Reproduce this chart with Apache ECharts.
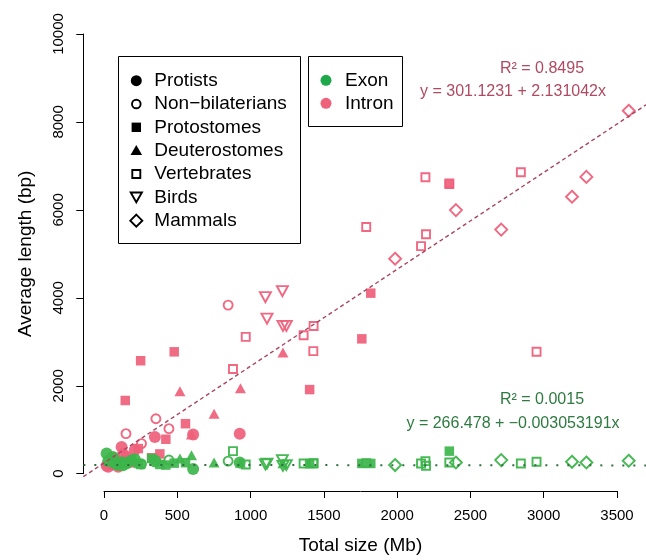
<!DOCTYPE html>
<html>
<head>
<meta charset="utf-8">
<script src="https://cdn.jsdelivr.net/npm/echarts@6/dist/echarts.min.js"></script>
<style>
  html, body { margin: 0; padding: 0; background: #fff; }
  #chart { width: 646px; height: 560px; }
</style>
</head>
<body>
<div id="chart"></div>
<script>
// genome size (Mb) and average exon / intron length (bp), per group
const protistsSize    = [18, 29, 60, 75, 97, 120, 130, 154, 188, 210, 347, 608, 926];
const protistsIntron  = [180, 160, 210, 346, 158, 610, 450, 384, 271, 540, 836, 889, 911];
const protistsExon    = [459, 287, 380, 230, 200, 260, 190, 240, 300, 330, 280, 106, 255];

const nonbilatSize    = [150, 256, 354, 443, 847];
const nonbilatIntron  = [911, 685, 1250, 1024, 3834];
const nonbilatExon    = [250, 220, 300, 310, 287];

const protoSize       = [145, 234, 250, 325, 381, 422, 479, 556, 1403, 1759, 1820, 2356];
const protoIntron     = [1665, 572, 2569, 362, 450, 784, 2772, 1137, 1913, 3067, 4106, 6583];
const protoExon       = [230, 233, 210, 346, 210, 197, 240, 250, 230, 233, 233, 513];

const deuteroSize     = [518, 597, 751, 931, 1221];
const deuteroIntron   = [1876, 889, 1363, 1943, 2757];
const deuteroExon     = [346, 422, 255, 250, 240];

const vertSize        = [880, 967, 1362, 1428, 1430, 1789, 2163, 2193, 2197, 2356, 2844, 2951];
const vertIntron      = [2380, 3111, 3149, 2787, 3360, 5612, 5175, 6742, 5446, 6600, 6855, 2772];
const vertExon        = [513, 210, 233, 233, 240, 240, 233, 287, 181, 255, 233, 271];

const birdSize        = [1101, 1112, 1217, 1221, 1244];
const birdIntron      = [4016, 3525, 4151, 3360, 3360];
const birdExon        = [210, 230, 310, 180, 197];

const mammalSize      = [1986, 2401, 2710, 3193, 3291, 3580];
const mammalIntron    = [4888, 5996, 5552, 6298, 6750, 8255];
const mammalExon      = [197, 255, 310, 271, 255, 294];

// linear fits as printed on the chart: [intercept, slope]
const intronFit = [301.1231, 2.131042];
const exonFit   = [266.478, -0.003053191];
const fitRange  = [-141, 3800];

const groupNames = ['Protists', 'Non\u2212bilaterians', 'Protostomes', 'Deuterostomes', 'Vertebrates', 'Birds', 'Mammals'];

const FONT = '"Liberation Sans", Arial, Helvetica, sans-serif';
const GREEN = '#3db54b';
const PINK = '#ef607b';

// pixel scale of the plot: 0..3500 Mb over 513 px
const PX_PER_MB = 513 / 3500;

const groups = [
  { size: protistsSize, exon: protistsExon, intron: protistsIntron, symbol: 'circle', sym: 12, open: false },
  { size: nonbilatSize, exon: nonbilatExon, intron: nonbilatIntron, symbol: 'circle', sym: 9, open: true },
  { size: protoSize, exon: protoExon, intron: protoIntron, symbol: 'rect', sym: 9.5, open: false },
  { size: deuteroSize, exon: deuteroExon, intron: deuteroIntron, symbol: 'triangle', sym: [11, 10], open: false },
  { size: vertSize, exon: vertExon, intron: vertIntron, symbol: 'rect', sym: 8, open: true },
  { size: birdSize, exon: birdExon, intron: birdIntron, symbol: 'triangle', sym: [11, 10], open: true, rotate: 180 },
  { size: mammalSize, exon: mammalExon, intron: mammalIntron, symbol: 'diamond', sym: [12, 12], open: true }
];

function scatterSeries(g, values, color, name) {
  return {
    name: name, type: 'scatter', clip: false,
    symbol: g.symbol, symbolSize: g.sym, symbolRotate: g.rotate || 0,
    data: g.size.map((x, i) => [x, values[i]]),
    itemStyle: g.open
      ? { color: 'rgba(0,0,0,0)', borderColor: color, borderWidth: 1.9, opacity: 0.95 }
      : { color: color, opacity: 0.92 },
    emphasis: { disabled: true }
  };
}

const series = [];

// fit lines live on a second, wider grid (hidden axes) spanning the whole plot region
function fitLine(fit, color, dash, width) {
  return {
    type: 'line', symbol: 'none', silent: true, xAxisIndex: 1, yAxisIndex: 1,
    data: fitRange.map(x => [x, fit[0] + fit[1] * x]),
    lineStyle: { color: color, type: dash, width: width }
  };
}
series.push(fitLine(intronFit, '#a9465f', [4, 3], 1.4));
series.push(fitLine(exonFit, '#2c6e3c', [2, 9], 2));

groups.forEach((g, i) => series.push(scatterSeries(g, g.intron, PINK, groupNames[i] + ' intron')));
groups.forEach((g, i) => series.push(scatterSeries(g, g.exon, GREEN, groupNames[i] + ' exon')));

// legend glyphs (drawn as graphics so the layout follows the original)
const legendRows = [80.7, 104, 127.3, 150.6, 174, 197.3, 220.7];
const lx = 136.3;
const blk = '#000';
const legendGlyphs = [
  { type: 'circle', shape: { cx: lx, cy: legendRows[0], r: 5.5 }, style: { fill: blk } },
  { type: 'circle', shape: { cx: lx, cy: legendRows[1], r: 4.3 }, style: { fill: 'none', stroke: blk, lineWidth: 1.9 } },
  { type: 'rect', shape: { x: lx - 4.7, y: legendRows[2] - 4.7, width: 9.4, height: 9.4 }, style: { fill: blk } },
  { type: 'polygon', shape: { points: [[lx, legendRows[3] - 5.5], [lx - 5.8, legendRows[3] + 4.5], [lx + 5.8, legendRows[3] + 4.5]] }, style: { fill: blk } },
  { type: 'rect', shape: { x: lx - 4, y: legendRows[4] - 4, width: 8, height: 8 }, style: { fill: 'none', stroke: blk, lineWidth: 1.9 } },
  { type: 'polygon', shape: { points: [[lx - 5.6, legendRows[5] - 4.8], [lx + 5.6, legendRows[5] - 4.8], [lx, legendRows[5] + 5]] }, style: { fill: 'none', stroke: blk, lineWidth: 1.9 } },
  { type: 'polygon', shape: { points: [[lx, legendRows[6] - 6], [lx + 6, legendRows[6]], [lx, legendRows[6] + 6], [lx - 6, legendRows[6]]] }, style: { fill: 'none', stroke: blk, lineWidth: 1.9 } }
];
const legendTexts = groupNames.map((t, i) => ({
  type: 'text', style: { text: t, x: 154.3, y: legendRows[i], font: '19px ' + FONT, fill: '#000', align: 'left', verticalAlign: 'middle' }
}));

const graphic = [
  { type: 'rect', shape: { x: 118.5, y: 56.5, width: 182, height: 187 }, style: { fill: 'none', stroke: '#000', lineWidth: 1 } },
  { type: 'rect', shape: { x: 308.5, y: 56.5, width: 94, height: 70 }, style: { fill: 'none', stroke: '#000', lineWidth: 1 } },
  ...legendGlyphs,
  ...legendTexts,
  { type: 'circle', shape: { cx: 326, cy: 80.3, r: 5.5 }, style: { fill: '#1fa84a' } },
  { type: 'circle', shape: { cx: 326, cy: 103.3, r: 5.5 }, style: { fill: PINK } },
  { type: 'text', style: { text: 'Exon', x: 345, y: 80.3, font: '19px ' + FONT, fill: '#000', align: 'left', verticalAlign: 'middle' } },
  { type: 'text', style: { text: 'Intron', x: 345, y: 103.3, font: '19px ' + FONT, fill: '#000', align: 'left', verticalAlign: 'middle' } },
  { type: 'text', style: { text: 'R\u00b2 = 0.8495', x: 542, y: 68.3, font: '16px ' + FONT, fill: '#b04a62', align: 'center', verticalAlign: 'middle' } },
  { type: 'text', style: { text: 'y = 301.1231 + 2.131042x', x: 513, y: 91.7, font: '16px ' + FONT, fill: '#b04a62', align: 'center', verticalAlign: 'middle' } },
  { type: 'text', style: { text: 'R\u00b2 = 0.0015', x: 542, y: 400, font: '16px ' + FONT, fill: '#2e7a40', align: 'center', verticalAlign: 'middle' } },
  { type: 'text', style: { text: 'y = 266.478 + \u22120.003053191x', x: 513, y: 423.3, font: '16px ' + FONT, fill: '#2e7a40', align: 'center', verticalAlign: 'middle' } }
];

const axisCommon = {
  type: 'value',
  axisLine: { show: true, onZero: false, lineStyle: { color: '#000', width: 1 } },
  axisTick: { show: true, length: 7, lineStyle: { color: '#000', width: 1 } },
  splitLine: { show: false },
  nameLocation: 'middle',
  nameTextStyle: { fontSize: 19, fontFamily: FONT, color: '#000' }
};
const hiddenAxis = { type: 'value', show: false, splitLine: { show: false } };

const options = {
  animation: false,
  backgroundColor: '#fff',
  grid: [
    { left: 104, top: 34, width: 513, height: 442.7 },
    { left: 104 + fitRange[0] * PX_PER_MB, top: 34, width: (fitRange[1] - fitRange[0]) * PX_PER_MB, height: 442.7 }
  ],
  xAxis: [
    Object.assign({}, axisCommon, {
      gridIndex: 0, min: 0, max: 3500, interval: 500, offset: 17.3,
      name: 'Total size (Mb)', nameGap: 45,
      axisLabel: { margin: 17, fontSize: 15, fontFamily: FONT, color: '#000', formatter: v => String(v) }
    }),
    Object.assign({}, hiddenAxis, { gridIndex: 1, min: fitRange[0], max: fitRange[1] })
  ],
  yAxis: [
    Object.assign({}, axisCommon, {
      gridIndex: 0, min: 0, max: 10000, interval: 2000, offset: 20.7,
      name: 'Average length (bp)', nameGap: 48,
      axisLabel: { margin: 17, rotate: 90, fontSize: 15, fontFamily: FONT, color: '#000', formatter: v => String(v) }
    }),
    Object.assign({}, hiddenAxis, { gridIndex: 1, min: 0, max: 10000 })
  ],
  series: series,
  graphic: graphic
};

const chart = echarts.init(document.getElementById('chart'), null, { renderer: 'canvas' });
chart.setOption(options);
</script>
</body>
</html>
